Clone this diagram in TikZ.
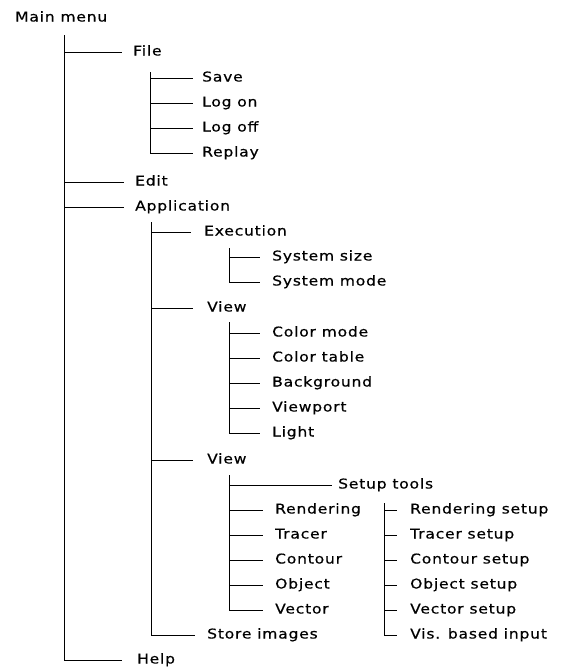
\documentclass[tikz,border=0pt]{standalone}
\usepackage{fontspec}
\setmainfont{DejaVu Sans}[LetterSpace=6, FakeStretch=1.15, FakeBold=0.5]
\usepackage{tikz}
\usetikzlibrary{calc}

\begin{document}
\begin{tikzpicture}[x=1pt, y=-1pt, every node/.style={font=\fontsize{13.5}{15}\selectfont},
    item/.style={anchor=west, inner sep=0pt, text height=9.5pt, text depth=2.5pt},
    branch/.style={line width=0.9pt, shorten >=11pt}]
    \useasboundingbox (0,0) rectangle (563,672);

    % ---------------- Top level ----------------
    \node[item] (main) at (15,18) {Main menu};
    \coordinate (maintrunk) at (64,35);
    \node[item] (file) at (133,52) {File};
    \node[item] (edit) at (135,182) {Edit};
    \node[item] (appl) at (135,207) {Application};
    \node[item] (help) at (137,660) {Help};

    \foreach \n in {file,edit,appl}
        \draw[branch] (maintrunk) |- (\n.west);
    \draw[branch, shorten >=15pt] (maintrunk) |- (help.west);

    % ---------------- File ----------------
    \coordinate (filetrunk) at (150,72);
    \node[item] (save) at (202,78) {Save};
    \node[item] (logon) at (202,103) {Log on};
    \node[item] (logoff) at (202,128) {Log off};
    \node[item] (replay) at (202,153) {Replay};

    \foreach \n in {save,logon,logoff,replay}
        \draw[branch, shorten >=9pt] (filetrunk) |- (\n.west);

    % ---------------- Application ----------------
    \coordinate (appltrunk) at (151,222);
    \node[item] (exec) at (204,232) {Execution};
    \node[item] (viewa) at (207,308) {View};
    \node[item] (viewb) at (207,460) {View};
    \node[item] (store) at (207,635) {Store images};

    \draw[branch, shorten >=13pt] (appltrunk) |- (exec.west);
    \draw[branch, shorten >=14pt] (appltrunk) |- (viewa.west);
    \draw[branch, shorten >=14pt] (appltrunk) |- (viewb.west);
    \draw[branch, shorten >=12pt] (appltrunk) |- (store.west);

    % execution
    \coordinate (exectrunk) at (229,248);
    \node[item] (syssize) at (272,257) {System size};
    \node[item] (sysmode) at (272,282) {System mode};

    \foreach \n in {syssize,sysmode}
        \draw[branch, shorten >=12pt] (exectrunk) |- (\n.west);

    % first view
    \coordinate (viewtrunk) at (229,322);
    \node[item] (colmode) at (272,333) {Color mode};
    \node[item] (coltable) at (272,358) {Color table};
    \node[item] (backgr) at (272,383) {Background};
    \node[item] (viewport) at (272,408) {Viewport};
    \node[item] (light) at (272,433) {Light};

    \foreach \n in {colmode,coltable,backgr,viewport,light}
        \draw[branch, shorten >=12pt] (viewtrunk) |- (\n.west);

    % second view
    \coordinate (toolstrunk) at (229,475);
    \node[item] (setup) at (338,485) {Setup tools};
    \node[item] (render) at (275,510) {Rendering};
    \node[item] (tracer) at (275,535) {Tracer};
    \node[item] (contour) at (275,560) {Contour};
    \node[item] (object) at (275,585) {Object};
    \node[item] (vector) at (275,610) {Vector};

    \draw[branch, shorten >=6pt] (toolstrunk) |- (setup.west);
    \foreach \n in {render,tracer,contour,object,vector}
        \draw[branch, shorten >=12pt] (toolstrunk) |- (\n.west);

    % setup tools
    \coordinate (setuptrunk) at (384,503);
    \node[item] (renderset) at (410,510) {Rendering setup};
    \node[item] (tracerset) at (410,535) {Tracer setup};
    \node[item] (contourset) at (410,560) {Contour setup};
    \node[item] (objectset) at (410,585) {Object setup};
    \node[item] (vectorset) at (410,610) {Vector setup};
    \node[item] (visinput) at (410,635) {Vis. based input};

    \foreach \n in {renderset,tracerset,contourset,objectset,vectorset,visinput}
        \draw[branch, shorten >=13pt] (setuptrunk) |- (\n.west);
\end{tikzpicture}
\end{document}
